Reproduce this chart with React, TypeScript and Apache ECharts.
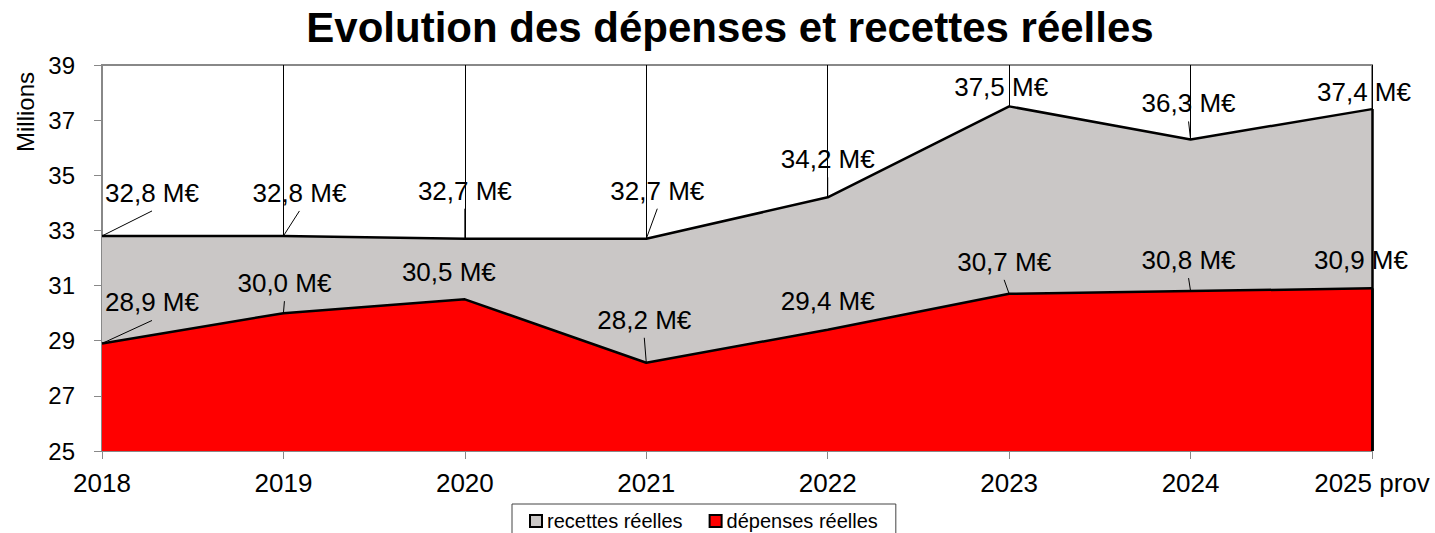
import React, { useEffect, useRef } from "react";
import * as echarts from "echarts";

const categories = ["2018", "2019", "2020", "2021", "2022", "2023", "2024", "2025 prov"];
const recettes = [32.8, 32.8, 32.7, 32.7, 34.2, 37.5, 36.3, 37.4];
const depenses = [28.9, 30.0, 30.5, 28.2, 29.4, 30.7, 30.8, 30.9];
const yTicks = { min: 25, max: 39, interval: 2 };

// label placement relative to the data point (layout only), and leader-line visibility
const recOffsets = [[50, -43], [16, -43], [0, -48], [11, -48], [0, -38], [-8, -19], [-2, -36], [-8, -17]];
const depOffsets = [[50, -41], [1, -30], [-16, -27], [-2, -43], [0, -29], [-5, -32], [-2, -31], [-11, -28]];
const recLeader = [true, true, true, true, true, false, true, false];
const depLeader = [true, true, false, true, false, true, true, false];

const FONT = 'Arial, "Liberation Sans", sans-serif';
const fmt = (v: number) => v.toFixed(1).replace(".", ",") + " M€";

export default function App() {
  const ref = useRef<HTMLDivElement>(null);
  useEffect(() => {
    if (!ref.current) return;
    const chart = echarts.init(ref.current, null, { renderer: "svg" });
    const last = categories[categories.length - 1];

    const areaSeries = (name: string, data: number[], color: string, z: number) => ({
      name,
      type: "line",
      data,
      z,
      color,
      symbol: "none",
      itemStyle: { color },
      lineStyle: { color: "#000", width: 2.5 },
      areaStyle: { color, opacity: 1, origin: "start" },
      markLine: {
        silent: true,
        symbol: "none",
        label: { show: false },
        lineStyle: { color: "#000", width: 2.5, type: "solid" },
        data: [[{ coord: [last, yTicks.min] }, { coord: [last, data[data.length - 1]] }]],
      },
    });

    const labelSeries = (data: number[], offsets: number[][], leaders: boolean[]) => ({
      type: "custom",
      z: 10,
      silent: true,
      clip: false,
      data: data.map((v, i) => [i, v]),
      encode: { x: 0, y: 1 },
      renderItem: (params: any, api: any) => {
        const i = api.value(0);
        const v = api.value(1);
        const p = api.coord([i, v]);
        const cx = p[0] + offsets[i][0];
        const cy = p[1] + offsets[i][1];
        const children: any[] = [];
        if (leaders[i]) {
          children.push({
            type: "line",
            shape: { x1: p[0], y1: p[1], x2: cx, y2: cy + 18 },
            style: { stroke: "#000", lineWidth: 1 },
          });
        }
        children.push({
          type: "text",
          x: cx,
          y: cy,
          style: {
            text: fmt(v),
            fontSize: 26,
            fontFamily: FONT,
            fill: "#000",
            align: "center",
            verticalAlign: "middle",
          },
        });
        return { type: "group", children };
      },
    });

    chart.setOption({
      animation: false,
      backgroundColor: "#fff",
      textStyle: { fontFamily: FONT },
      legend: {
        left: 512,
        top: 504,
        data: ["recettes réelles", "dépenses réelles"],
        icon: "rect",
        itemWidth: 12,
        itemHeight: 12,
        itemGap: 26,
        padding: [7, 18, 10, 17],
        borderColor: "#444",
        borderWidth: 1,
        itemStyle: { borderColor: "#000", borderWidth: 2 },
        textStyle: { fontSize: 20, color: "#000", fontFamily: FONT },
      },
      graphic: [
        {
          type: "text",
          x: 730,
          y: 27,
          style: {
            text: "Evolution des dépenses et recettes réelles",
            fontSize: 42,
            fontWeight: "bold",
            fontFamily: FONT,
            fill: "#000",
            align: "center",
            verticalAlign: "middle",
          },
        },
        {
          type: "text",
          x: 25,
          y: 112,
          rotation: Math.PI / 2,
          style: {
            text: "Millions",
            fontSize: 24,
            fontFamily: FONT,
            fill: "#000",
            align: "center",
            verticalAlign: "middle",
          },
        },
      ],
      grid: {
        left: 102,
        right: 63,
        top: 65,
        bottom: 82,
        show: true,
        borderColor: "#888",
        borderWidth: 2,
        backgroundColor: "#fff",
      },
      xAxis: {
        type: "category",
        data: categories,
        boundaryGap: false,
        axisLine: { show: true, lineStyle: { color: "#888", width: 2 } },
        axisTick: { show: true, length: 8, lineStyle: { color: "#888" } },
        splitLine: { show: true, lineStyle: { color: "#000", width: 1 } },
        axisLabel: { fontSize: 26, color: "#000", margin: 19, fontFamily: FONT },
      },
      yAxis: {
        type: "value",
        min: yTicks.min,
        max: yTicks.max,
        interval: yTicks.interval,
        axisLine: { show: true, lineStyle: { color: "#888", width: 2 } },
        axisTick: { show: true, length: 8, lineStyle: { color: "#888" } },
        splitLine: { show: false },
        axisLabel: { fontSize: 24, color: "#000", margin: 27, fontFamily: FONT },
      },
      series: [
        areaSeries("recettes réelles", recettes, "#cac7c6", 2),
        areaSeries("dépenses réelles", depenses, "#ff0000", 3),
        labelSeries(recettes, recOffsets, recLeader),
        labelSeries(depenses, depOffsets, depLeader),
      ],
    });
    return () => chart.dispose();
  }, []);
  return (
    <div
      ref={ref}
      style={{ position: "fixed", left: 0, top: 0, width: 1435, height: 533 }}
    />
  );
}
